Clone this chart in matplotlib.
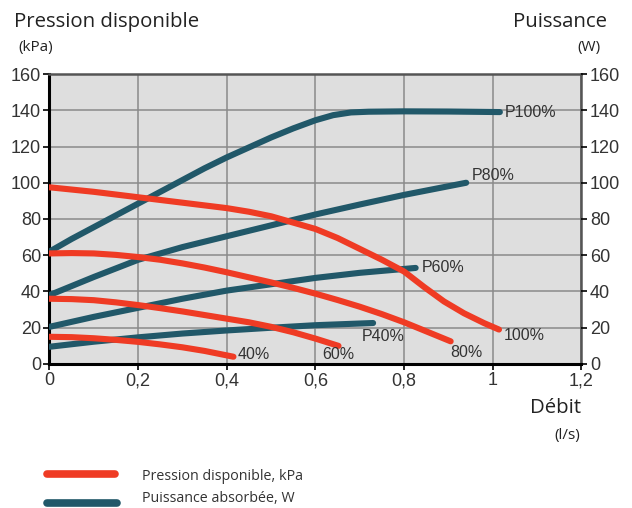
import matplotlib
matplotlib.use("Agg")
import matplotlib.pyplot as plt
from matplotlib.lines import Line2D

# Débit (l/s) / Pression disponible (kPa)
x_r100 = [0, 0.1, 0.2, 0.3, 0.4, 0.45, 0.5, 0.55, 0.6, 0.65, 0.7, 0.75, 0.8, 0.845, 0.89, 0.935, 0.98, 1.014]
y_r100 = [97.5, 95, 92, 89, 86, 84, 81.5, 78, 74.5, 69.5, 63.5, 57.5, 51, 42.5, 34.5, 28, 22.6, 19]
x_r80 = [0, 0.05, 0.1, 0.15, 0.2, 0.25, 0.3, 0.35, 0.4, 0.45, 0.5, 0.55, 0.6, 0.65, 0.7, 0.75, 0.8, 0.85, 0.905]
y_r80 = [61, 61.2, 61, 60.2, 59, 57.5, 55.5, 53.2, 50.6, 47.8, 45, 42, 38.8, 35.3, 31.6, 27.5, 23, 18, 12.5]
x_r60 = [0, 0.05, 0.1, 0.15, 0.2, 0.25, 0.3, 0.35, 0.4, 0.45, 0.5, 0.55, 0.6, 0.652]
y_r60 = [36, 35.8, 35.2, 34, 32.5, 30.8, 29, 27, 25, 23, 20.5, 17.5, 14, 10]
x_r40 = [0, 0.05, 0.1, 0.15, 0.2, 0.25, 0.3, 0.35, 0.415]
y_r40 = [15, 14.8, 14.2, 13.3, 12.2, 10.8, 9.2, 7.2, 4]

# Puissance absorbée (W)
x_p100 = [0, 0.05, 0.1, 0.15, 0.2, 0.25, 0.3, 0.35, 0.4, 0.45, 0.5, 0.55, 0.6, 0.64, 0.68, 0.72, 0.8, 0.9, 1.016]
y_p100 = [62, 69, 75.5, 82, 88.5, 95, 101.5, 108, 114, 119.5, 125, 130, 134.5, 137.3, 138.8, 139.2, 139.4, 139.3, 139]
x_p80 = [0, 0.1, 0.2, 0.3, 0.4, 0.5, 0.6, 0.7, 0.8, 0.94]
y_p80 = [38, 48, 57.5, 64.5, 70.5, 76.5, 82.5, 88, 93.3, 100]
x_p60 = [0, 0.1, 0.2, 0.3, 0.4, 0.5, 0.6, 0.7, 0.826]
y_p60 = [20.5, 26, 31, 36, 40.5, 44, 47.5, 50.3, 53]
x_p40 = [0, 0.1, 0.2, 0.3, 0.4, 0.5, 0.6, 0.73]
y_p40 = [9.5, 12.3, 14.7, 16.8, 18.5, 20, 21.4, 22.6]

xticks = [0, 0.2, 0.4, 0.6, 0.8, 1.0, 1.2]
xtick_labels = ["0", "0,2", "0,4", "0,6", "0,8", "1", "1,2"]
yticks = [0, 20, 40, 60, 80, 100, 120, 140, 160]

RED = "#ef3b24"
BLUE = "#215869"
TICKFONT = "Liberation Sans"
TEXTFONT = "Open Sans"

fig = plt.figure(figsize=(6.32, 5.08), dpi=100)
ax = fig.add_axes([0.0783, 0.2835, 0.8417, 0.5708])
ax.set_facecolor("#dedede")
ax.set_xlim(0, 1.2)
ax.set_ylim(0, 160)
ax.set_xticks(xticks)
ax.set_xticklabels(xtick_labels)
ax.set_yticks(yticks)
ax.grid(True, color="#8a8a8a", linewidth=1.1)
ax.set_axisbelow(True)

for s in ["left", "bottom"]:
    ax.spines[s].set_color("black")
    ax.spines[s].set_linewidth(2.2)
for s in ["top", "right"]:
    ax.spines[s].set_color("#555555")
    ax.spines[s].set_linewidth(1.8)

ax.tick_params(axis="both", direction="out", length=4, width=1.2, color="black",
               labelsize=13, labelcolor="#333333", pad=2)
for lab in ax.get_xticklabels() + ax.get_yticklabels():
    lab.set_fontfamily(TICKFONT)

ax2 = ax.twinx()
ax2.set_ylim(0, 160)
ax2.set_yticks(yticks)
ax2.tick_params(axis="y", direction="out", length=4, width=1.2, color="black",
                labelsize=13, labelcolor="#333333", pad=2)
for lab in ax2.get_yticklabels():
    lab.set_fontfamily(TICKFONT)
for s in ax2.spines.values():
    s.set_visible(False)

lw = 4.4
for xs, ys in [(x_p100, y_p100), (x_p80, y_p80), (x_p60, y_p60), (x_p40, y_p40)]:
    ax.plot(xs, ys, color=BLUE, lw=lw, solid_capstyle="round", solid_joinstyle="round", zorder=3)
for xs, ys in [(x_r100, y_r100), (x_r80, y_r80), (x_r60, y_r60), (x_r40, y_r40)]:
    ax.plot(xs, ys, color=RED, lw=lw, solid_capstyle="round", solid_joinstyle="round", zorder=4)

lab_kw = dict(fontsize=11.5, color="#333333", fontfamily=TICKFONT, zorder=5, va="center")
ax.text(1.027, 139, "P100%", **lab_kw)
ax.text(0.953, 104, "P80%", **lab_kw)
ax.text(0.84, 53.5, "P60%", **lab_kw)
ax.text(0.705, 15, "P40%", **lab_kw)
ax.text(1.025, 15.5, "100%", **lab_kw)
ax.text(0.905, 6.5, "80%", **lab_kw)
ax.text(0.615, 5, "60%", **lab_kw)
ax.text(0.425, 5, "40%", **lab_kw)

fig.text(14 / 632, 1 - 22 / 508, "Pression disponible", fontsize=14.7, fontfamily=TEXTFONT,
         color="#222222", ha="left", va="center")
fig.text(18 / 632, 1 - 47 / 508, "(kPa)", fontsize=11, fontfamily=TEXTFONT,
         color="#222222", ha="left", va="center")
fig.text(607 / 632, 1 - 22 / 508, "Puissance", fontsize=14.7, fontfamily=TEXTFONT,
         color="#222222", ha="right", va="center")
fig.text(600 / 632, 1 - 47 / 508, "(W)", fontsize=11, fontfamily=TEXTFONT,
         color="#222222", ha="right", va="center")
fig.text(581 / 632, 1 - 408 / 508, "Débit", fontsize=14.7, fontfamily=TEXTFONT,
         color="#222222", ha="right", va="center")
fig.text(580 / 632, 1 - 436 / 508, "(l/s)", fontsize=11, fontfamily=TEXTFONT,
         color="#222222", ha="right", va="center")

# légende
fig.add_artist(Line2D([47 / 632, 115 / 632], [1 - 474 / 508] * 2, color=RED, lw=5.5,
                      solid_capstyle="round"))
fig.add_artist(Line2D([47 / 632, 117 / 632], [1 - 503 / 508] * 2, color=BLUE, lw=5.5,
                      solid_capstyle="round"))
fig.text(142 / 632, 1 - 477 / 508, "Pression disponible, kPa", fontsize=10.3,
         fontfamily=TEXTFONT, color="#333333", ha="left", va="center")
fig.text(142 / 632, 1 - 499 / 508, "Puissance absorbée, W", fontsize=10.3,
         fontfamily=TEXTFONT, color="#333333", ha="left", va="center")

fig.savefig("out.png", dpi=100)
